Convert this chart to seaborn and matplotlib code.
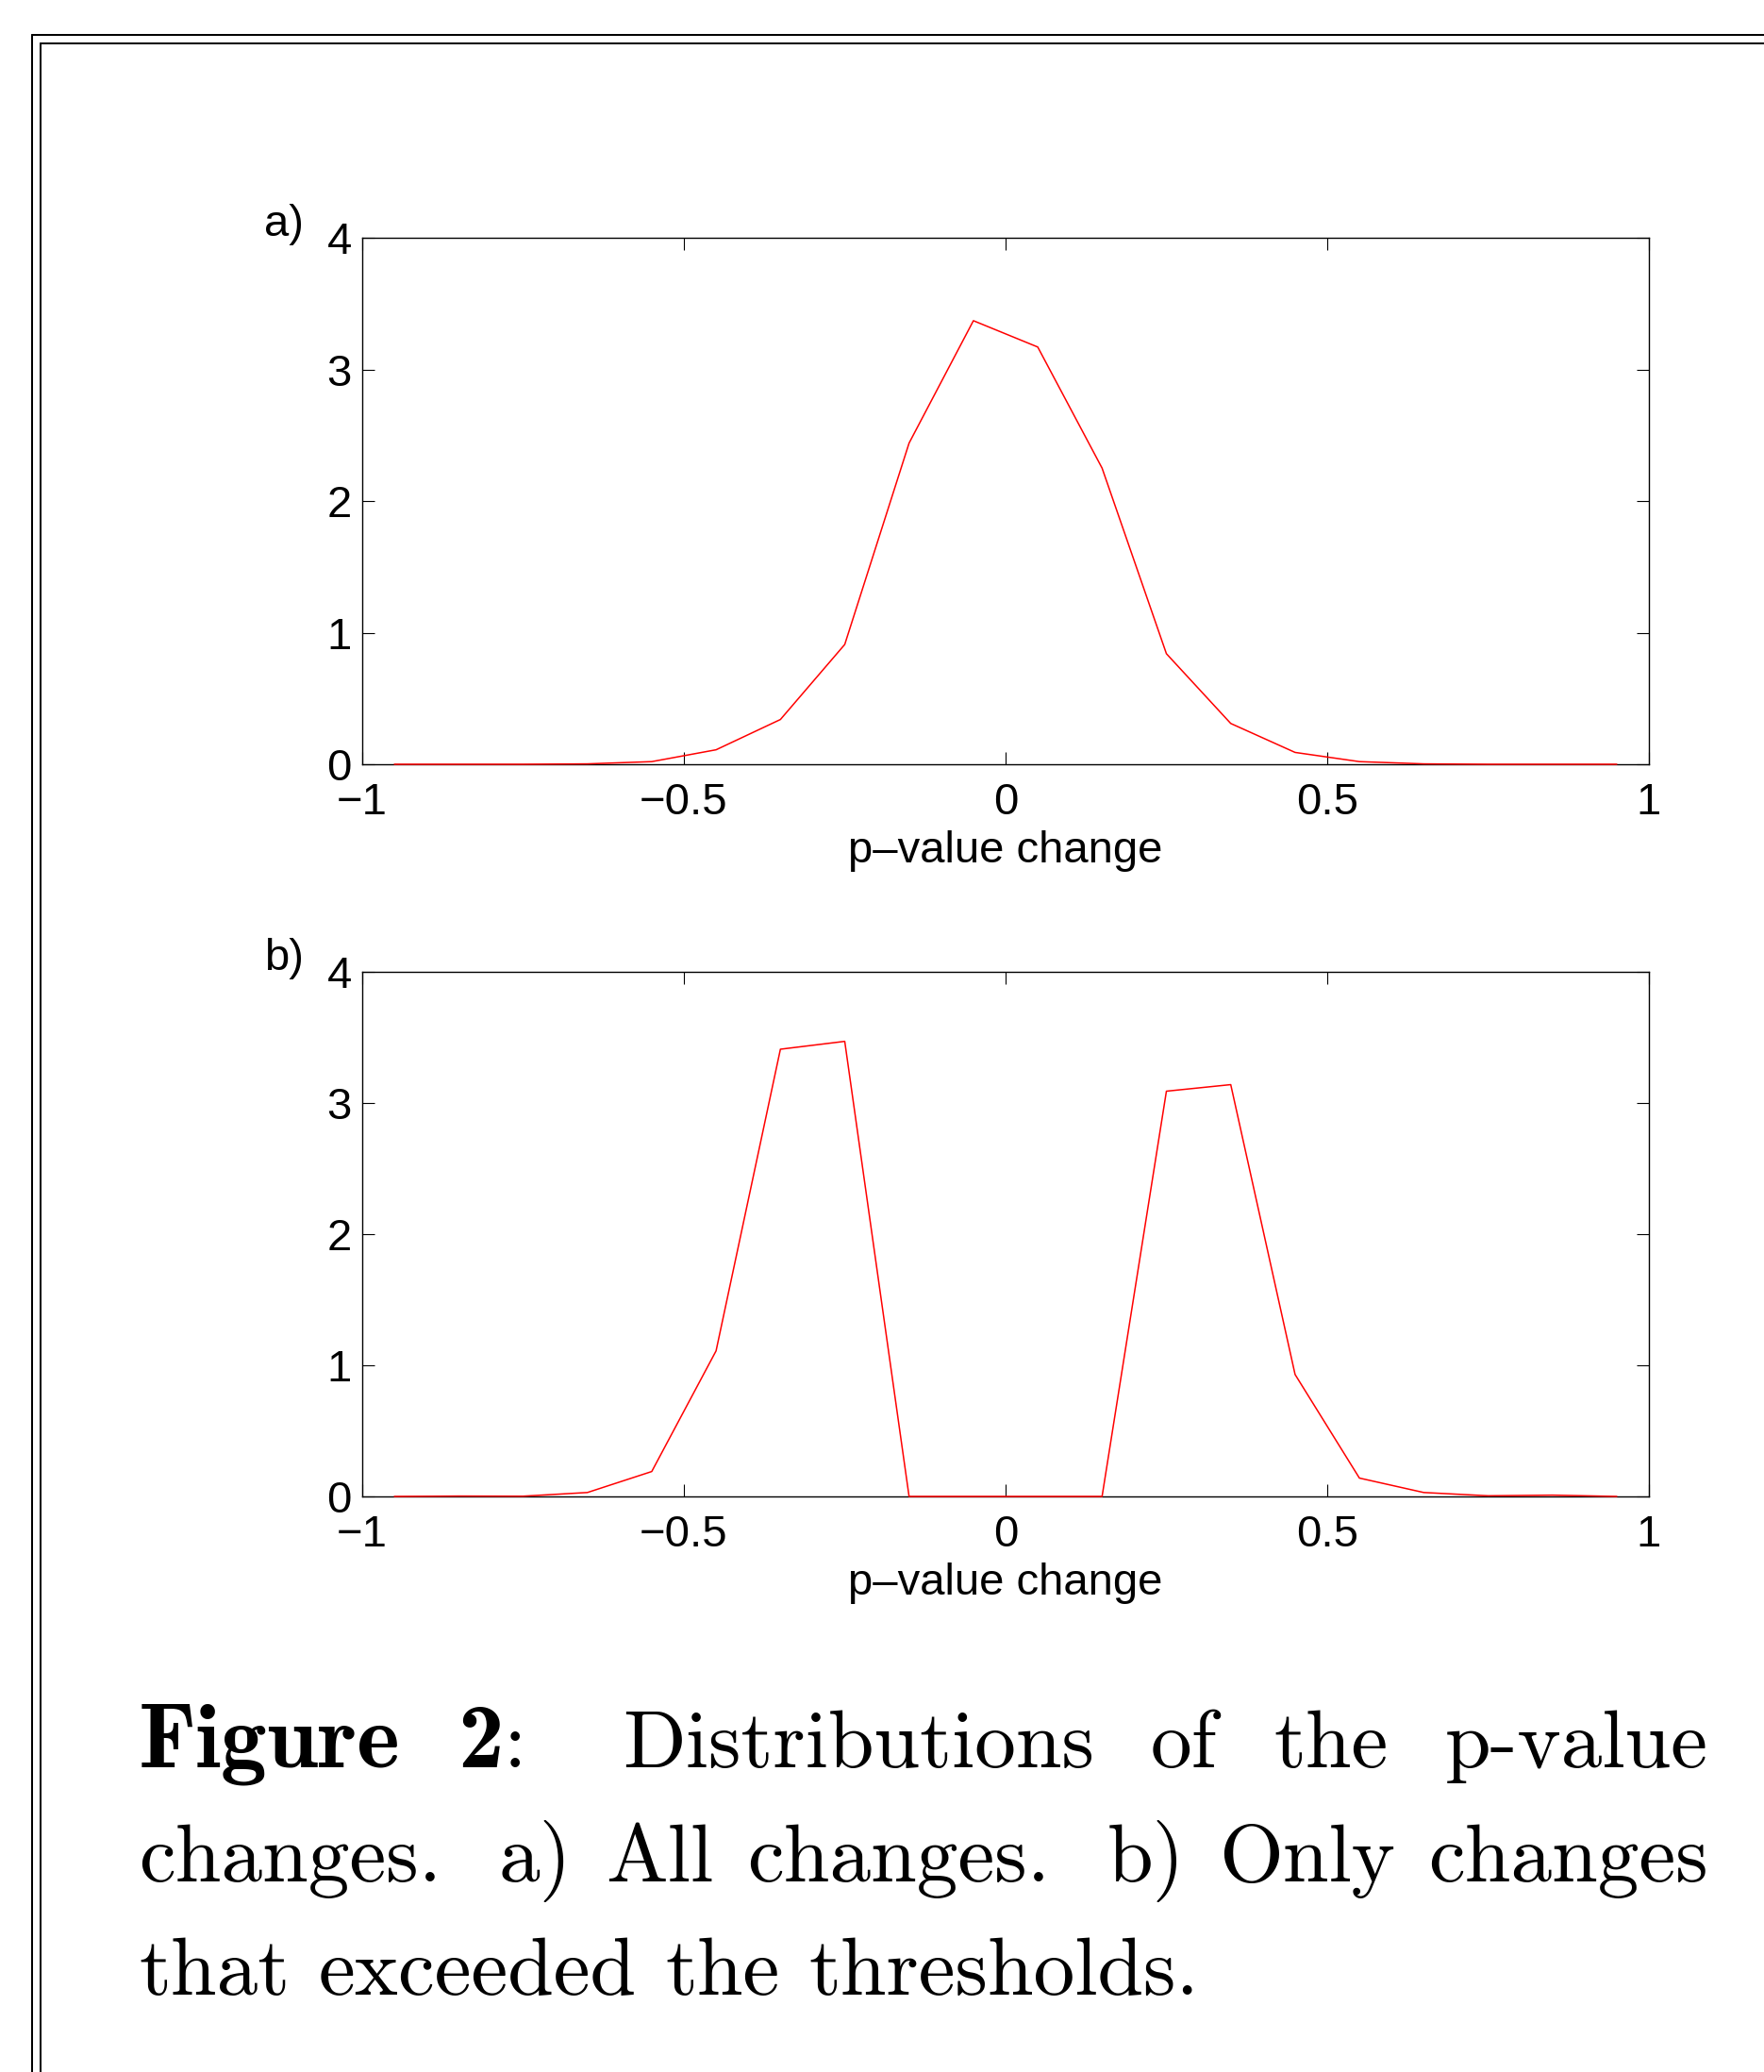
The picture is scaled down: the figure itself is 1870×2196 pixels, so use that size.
import numpy as np
import pandas as pd
import seaborn as sns
import matplotlib
matplotlib.use("Agg")
import matplotlib.pyplot as plt
from matplotlib.lines import Line2D

# ---------------- data ----------------
bin_centers = [-0.95, -0.85, -0.75, -0.65, -0.55, -0.45, -0.35, -0.25, -0.15, -0.05,
               0.05, 0.15, 0.25, 0.35, 0.45, 0.55, 0.65, 0.75, 0.85, 0.95]
density_all = [0.0, 0.0, 0.0, 0.003, 0.02, 0.11, 0.34, 0.91, 2.44, 3.37,
               3.17, 2.25, 0.84, 0.31, 0.09, 0.02, 0.003, 0.0, 0.0, 0.0]
density_exceeded = [0.0, 0.003, 0.002, 0.03, 0.19, 1.11, 3.41, 3.47, 0.0, 0.0,
                    0.0, 0.0, 3.09, 3.14, 0.93, 0.14, 0.03, 0.005, 0.01, 0.0]
xticks = [-1, -0.5, 0, 0.5, 1]
xtick_labels = ["\u22121", "\u22120.5", "0", "0.5", "1"]
yticks = [0, 1, 2, 3, 4]
ytick_labels = ["0", "1", "2", "3", "4"]
panel_labels = ["a)", "b)"]
xlabel_text = "p\u2013value change"
caption_lines = [
    [[("Figure", "bold")], [("2", "bold"), (":", "normal")], [("Distributions", "normal")],
     [("of", "normal")], [("the", "normal")], [("p-value", "normal")]],
    [[("changes.", "normal")], [("a)", "normal")], [("All", "normal")], [("changes.", "normal")],
     [("b)", "normal")], [("Only", "normal")], [("changes", "normal")]],
    [[("that", "normal")], [("exceeded", "normal")], [("the", "normal")], [("thresholds.", "normal")]],
]

# ---------------- figure ----------------
W, H = 1870, 2196
DPI = 100
sns.set_theme(style="ticks")
plt.rcParams["font.family"] = ["Liberation Sans", "DejaVu Sans"]
plt.rcParams["axes.unicode_minus"] = True

fig = plt.figure(figsize=(W / DPI, H / DPI), dpi=DPI)
fig.patch.set_facecolor("white")

PT = DPI / 72.0  # px per point


def fx(px):
    return px / W


def fy(py):
    return 1 - py / H


ax_left, ax_right = 384, 1748
panels = [(252, 810, density_all), (1030, 1586, density_exceeded)]
TICK_FS = 34

for (top, bottom, dens), plab in zip(panels, panel_labels):
    ax = fig.add_axes([fx(ax_left), fy(bottom), (ax_right - ax_left) / W, (bottom - top) / H])
    ax.set_facecolor("white")
    df = pd.DataFrame({"x": bin_centers, "y": dens})
    sns.lineplot(data=df, x="x", y="y", ax=ax, color="#ff0000", linewidth=1.1, zorder=3)
    for ln in ax.get_lines():
        ln.set_clip_on(False)
    ax.set_xlim(-1, 1)
    ax.set_ylim(0, 4)
    ax.set_xticks(xticks)
    ax.set_xticklabels(xtick_labels)
    ax.set_yticks(yticks)
    ax.set_yticklabels(ytick_labels)
    ax.tick_params(axis="both", direction="in", length=9.5, width=0.8, color="black",
                   labelcolor="black", labelsize=TICK_FS, top=True, right=True)
    ax.tick_params(axis="y", pad=8)
    ax.tick_params(axis="x", pad=14)
    for s in ax.spines.values():
        s.set_visible(True)
        s.set_linewidth(1.0)
        s.set_color("black")
    ax.set_xlabel(xlabel_text, fontsize=TICK_FS, color="black", labelpad=4.5)
    ax.set_ylabel("")
    ax.grid(False)
    ax.annotate(plab, xy=(0, 1), xycoords="axes fraction",
                xytext=(-(ax_left - 280) / PT, 2 / PT), textcoords="offset points",
                ha="left", va="baseline", fontsize=TICK_FS, color="black")

# ---------------- frame lines (double rule) ----------------
lw = 2.0 / PT
for off in (34, 43):
    fig.add_artist(Line2D([fx(off), 1.0], [fy(off + 3), fy(off + 3)], transform=fig.transFigure,
                          color="black", linewidth=lw))
    fig.add_artist(Line2D([fx(off), fx(off)], [fy(off + 3), 0.0], transform=fig.transFigure,
                          color="black", linewidth=lw))

# ---------------- caption (justified) ----------------
CAP_FS = 63
fam = {"bold": "cmb10", "normal": "cmr10"}
size = {"bold": 70, "normal": CAP_FS}
renderer = fig.canvas.get_renderer()


def measure(txt, weight):
    t = fig.text(0, 0, txt, fontsize=size[weight], family=fam[weight])
    w = t.get_window_extent(renderer).width
    t.remove()
    return w


space_w = measure("a a", "normal") - measure("aa", "normal")
cap_left, cap_right = 147, 1811
baselines = [1873, 1994, 2114]

for li, (tokens, base) in enumerate(zip(caption_lines, baselines)):
    widths = []
    for tok in tokens:
        widths.append([measure(txt, wt) for txt, wt in tok])
    tok_w = [sum(w) for w in widths]
    gap_weights = []
    for tok in tokens[:-1]:
        last = tok[-1][0]
        gap_weights.append(1.7 if last.endswith((".", ":")) else 1.0)
    justify = li < len(caption_lines) - 1
    if justify:
        slack = (cap_right - cap_left) - sum(tok_w)
        unit = slack / sum(gap_weights)
    else:
        unit = space_w * 1.05
    x = cap_left
    for ti, tok in enumerate(tokens):
        xx = x
        for (txt, wt), w in zip(tok, widths[ti]):
            fig.text(fx(xx), fy(base), txt, fontsize=size[wt], family=fam[wt], color="black",
                     ha="left", va="baseline")
            xx += w
        x += tok_w[ti]
        if ti < len(gap_weights):
            x += unit * gap_weights[ti]

fig.savefig("out.png", dpi=DPI, facecolor="white")
